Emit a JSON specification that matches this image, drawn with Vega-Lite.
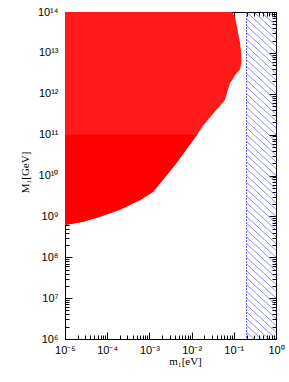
{
  "$schema": "https://vega.github.io/schema/vega-lite/v6.json",
  "width": 211,
  "height": 327,
  "autosize": "none",
  "padding": {"left": 65, "top": 12, "right": 13, "bottom": 43},
  "background": "white",
  "config": {"view": {"stroke": "black", "strokeWidth": 1}},
  "layer": [
    {
      "data": {"values": [
        {"m1": 1e-5, "Mlo": 6.17e8, "Mhi": 1e14},
        {"m1": 2.69e-5, "Mlo": 7.41e8, "Mhi": 1e14},
        {"m1": 6.76e-5, "Mlo": 9.77e8, "Mhi": 1e14},
        {"m1": 2.0e-4, "Mlo": 1.45e9, "Mhi": 1e14},
        {"m1": 6.03e-4, "Mlo": 2.51e9, "Mhi": 1e14},
        {"m1": 1.23e-3, "Mlo": 3.98e9, "Mhi": 1e14},
        {"m1": 4.07e-3, "Mlo": 1.82e10, "Mhi": 1e14},
        {"m1": 0.0135, "Mlo": 1e11, "Mhi": 1e14},
        {"m1": 0.0178, "Mlo": 1.55e11, "Mhi": 1e14},
        {"m1": 0.0316, "Mlo": 3.16e11, "Mhi": 1e14},
        {"m1": 0.0617, "Mlo": 7.08e11, "Mhi": 1e14},
        {"m1": 0.0813, "Mlo": 1.82e12, "Mhi": 1e14},
        {"m1": 0.0912, "Mlo": 2.14e12, "Mhi": 1e14},
        {"m1": 0.107, "Mlo": 2.82e12, "Mhi": 7.59e13},
        {"m1": 0.141, "Mlo": 3.98e12, "Mhi": 1.74e13},
        {"m1": 0.151, "Mlo": 5.62e12, "Mhi": 8.9e12}
      ]},
      "mark": {"type": "area", "color": "#ff1a1a", "clip": true},
      "encoding": {
        "x": {"field": "m1", "type": "quantitative",
          "scale": {"type": "log", "domain": [1e-5, 1], "nice": false},
          "axis": {"orient": "bottom", "tickCount": 40, "grid": false, "ticks": true,
            "title": "m₁[eV]", "titleFont": "Liberation Serif", "titleFontSize": 11, "titleFontWeight": "normal", "titleColor": "black",
            "titleX": 120, "titleY": 16, "titleBaseline": "top", "titleAlign": "center",
            "labelFont": "Liberation Sans", "labelFontSize": 11, "labelColor": "black", "labelOverlap": false, "labelFlush": false,
            "labelExpr": "abs(log(datum.value)/LN10 - round(log(datum.value)/LN10)) < 0.001 ? '10' + (round(log(datum.value)/LN10) < 0 ? '⁻' : '') + substring('⁰¹²³⁴⁵⁶⁷⁸⁹', abs(round(log(datum.value)/LN10)), abs(round(log(datum.value)/LN10)) + 1) : ''",
            "tickColor": "black", "domainColor": "black", "labelPadding": 9, "tickSize": -4}},
        "y": {"field": "Mlo", "type": "quantitative",
          "scale": {"type": "log", "domain": [1e6, 1e14], "nice": false},
          "axis": {"orient": "left", "tickCount": 40, "grid": false, "ticks": true,
            "title": "M₁[GeV]", "titleFont": "Liberation Serif", "titleFontSize": 11, "titleFontWeight": "normal", "titleColor": "black",
            "titleX": -35, "titleY": 160, "titleAngle": -90, "titleBaseline": "bottom", "titleAlign": "center",
            "labelFont": "Liberation Sans", "labelFontSize": 11, "labelColor": "black", "labelOverlap": false, "labelFlush": false,
            "labelExpr": "abs(log(datum.value)/LN10 - round(log(datum.value)/LN10)) < 0.001 ? '10' + (round(log(datum.value)/LN10) >= 10 ? '¹' : '') + substring('⁰¹²³⁴⁵⁶⁷⁸⁹', round(log(datum.value)/LN10) % 10, round(log(datum.value)/LN10) % 10 + 1) : ''",
            "tickColor": "black", "domainColor": "black", "labelPadding": 11, "tickSize": -4}},
        "y2": {"field": "Mhi"}
      }
    },
    {
      "data": {"values": [
        {"bx": 1e-5, "blo": 6.17e8, "bhi": 1e11},
        {"bx": 2.69e-5, "blo": 7.41e8, "bhi": 1e11},
        {"bx": 6.76e-5, "blo": 9.77e8, "bhi": 1e11},
        {"bx": 2.0e-4, "blo": 1.45e9, "bhi": 1e11},
        {"bx": 6.03e-4, "blo": 2.51e9, "bhi": 1e11},
        {"bx": 1.23e-3, "blo": 3.98e9, "bhi": 1e11},
        {"bx": 4.07e-3, "blo": 1.82e10, "bhi": 1e11},
        {"bx": 0.0135, "blo": 1e11, "bhi": 1e11}
      ]},
      "mark": {"type": "area", "color": "#ff0000", "clip": true},
      "encoding": {
        "x": {"field": "bx", "type": "quantitative", "axis": null},
        "y": {"field": "blo", "type": "quantitative", "axis": null},
        "y2": {"field": "bhi"}
      }
    },
    {
      "data": {"values": [
        {"hx1": 0.2, "hx2": 1, "hy1": 1e6, "hy2": 2.154e5},
        {"hx1": 0.2, "hx2": 1, "hy1": 1.468e6, "hy2": 3.162e5},
        {"hx1": 0.2, "hx2": 1, "hy1": 2.154e6, "hy2": 4.642e5},
        {"hx1": 0.2, "hx2": 1, "hy1": 3.162e6, "hy2": 6.813e5},
        {"hx1": 0.2, "hx2": 1, "hy1": 4.642e6, "hy2": 1e6},
        {"hx1": 0.2, "hx2": 1, "hy1": 6.813e6, "hy2": 1.468e6},
        {"hx1": 0.2, "hx2": 1, "hy1": 1e7, "hy2": 2.154e6},
        {"hx1": 0.2, "hx2": 1, "hy1": 1.468e7, "hy2": 3.162e6},
        {"hx1": 0.2, "hx2": 1, "hy1": 2.154e7, "hy2": 4.642e6},
        {"hx1": 0.2, "hx2": 1, "hy1": 3.162e7, "hy2": 6.813e6},
        {"hx1": 0.2, "hx2": 1, "hy1": 4.642e7, "hy2": 1e7},
        {"hx1": 0.2, "hx2": 1, "hy1": 6.813e7, "hy2": 1.468e7},
        {"hx1": 0.2, "hx2": 1, "hy1": 1e8, "hy2": 2.154e7},
        {"hx1": 0.2, "hx2": 1, "hy1": 1.468e8, "hy2": 3.162e7},
        {"hx1": 0.2, "hx2": 1, "hy1": 2.154e8, "hy2": 4.642e7},
        {"hx1": 0.2, "hx2": 1, "hy1": 3.162e8, "hy2": 6.813e7},
        {"hx1": 0.2, "hx2": 1, "hy1": 4.642e8, "hy2": 1e8},
        {"hx1": 0.2, "hx2": 1, "hy1": 6.813e8, "hy2": 1.468e8},
        {"hx1": 0.2, "hx2": 1, "hy1": 1e9, "hy2": 2.154e8},
        {"hx1": 0.2, "hx2": 1, "hy1": 1.468e9, "hy2": 3.162e8},
        {"hx1": 0.2, "hx2": 1, "hy1": 2.154e9, "hy2": 4.642e8},
        {"hx1": 0.2, "hx2": 1, "hy1": 3.162e9, "hy2": 6.813e8},
        {"hx1": 0.2, "hx2": 1, "hy1": 4.642e9, "hy2": 1e9},
        {"hx1": 0.2, "hx2": 1, "hy1": 6.813e9, "hy2": 1.468e9},
        {"hx1": 0.2, "hx2": 1, "hy1": 1e10, "hy2": 2.154e9},
        {"hx1": 0.2, "hx2": 1, "hy1": 1.468e10, "hy2": 3.162e9},
        {"hx1": 0.2, "hx2": 1, "hy1": 2.154e10, "hy2": 4.642e9},
        {"hx1": 0.2, "hx2": 1, "hy1": 3.162e10, "hy2": 6.813e9},
        {"hx1": 0.2, "hx2": 1, "hy1": 4.642e10, "hy2": 1e10},
        {"hx1": 0.2, "hx2": 1, "hy1": 6.813e10, "hy2": 1.468e10},
        {"hx1": 0.2, "hx2": 1, "hy1": 1e11, "hy2": 2.154e10},
        {"hx1": 0.2, "hx2": 1, "hy1": 1.468e11, "hy2": 3.162e10},
        {"hx1": 0.2, "hx2": 1, "hy1": 2.154e11, "hy2": 4.642e10},
        {"hx1": 0.2, "hx2": 1, "hy1": 3.162e11, "hy2": 6.813e10},
        {"hx1": 0.2, "hx2": 1, "hy1": 4.642e11, "hy2": 1e11},
        {"hx1": 0.2, "hx2": 1, "hy1": 6.813e11, "hy2": 1.468e11},
        {"hx1": 0.2, "hx2": 1, "hy1": 1e12, "hy2": 2.154e11},
        {"hx1": 0.2, "hx2": 1, "hy1": 1.468e12, "hy2": 3.162e11},
        {"hx1": 0.2, "hx2": 1, "hy1": 2.154e12, "hy2": 4.642e11},
        {"hx1": 0.2, "hx2": 1, "hy1": 3.162e12, "hy2": 6.813e11},
        {"hx1": 0.2, "hx2": 1, "hy1": 4.642e12, "hy2": 1e12},
        {"hx1": 0.2, "hx2": 1, "hy1": 6.813e12, "hy2": 1.468e12},
        {"hx1": 0.2, "hx2": 1, "hy1": 1e13, "hy2": 2.154e12},
        {"hx1": 0.2, "hx2": 1, "hy1": 1.468e13, "hy2": 3.162e12},
        {"hx1": 0.2, "hx2": 1, "hy1": 2.154e13, "hy2": 4.642e12},
        {"hx1": 0.2, "hx2": 1, "hy1": 3.162e13, "hy2": 6.813e12},
        {"hx1": 0.2, "hx2": 1, "hy1": 4.642e13, "hy2": 1e13},
        {"hx1": 0.2, "hx2": 1, "hy1": 6.813e13, "hy2": 1.468e13},
        {"hx1": 0.2, "hx2": 1, "hy1": 1e14, "hy2": 2.154e13},
        {"hx1": 0.2, "hx2": 1, "hy1": 1.468e14, "hy2": 3.162e13},
        {"hx1": 0.2, "hx2": 1, "hy1": 2.154e14, "hy2": 4.642e13},
        {"hx1": 0.2, "hx2": 1, "hy1": 3.162e14, "hy2": 6.813e13},
        {"hx1": 0.2, "hx2": 1, "hy1": 4.642e14, "hy2": 1e14}
      ]},
      "mark": {"type": "rule", "color": "#3a3aee", "strokeWidth": 0.7, "opacity": 0.85, "clip": true},
      "encoding": {
        "x": {"field": "hx1", "type": "quantitative",
          "scale": {"type": "log", "domain": [1e-5, 1], "nice": false},
          "axis": {"orient": "top", "tickCount": 40, "grid": false, "labels": false, "title": null, "ticks": true,
            "tickColor": "black", "domainColor": "black", "tickSize": -4}},
        "x2": {"field": "hx2"},
        "y": {"field": "hy1", "type": "quantitative",
          "scale": {"type": "log", "domain": [1e6, 1e14], "nice": false},
          "axis": {"orient": "right", "tickCount": 40, "grid": false, "labels": false, "title": null, "ticks": true,
            "tickColor": "black", "domainColor": "black", "tickSize": -4}},
        "y2": {"field": "hy2"}
      }
    },
    {
      "data": {"values": [{"edge": 0.2}]},
      "mark": {"type": "rule", "color": "#3a3aee", "strokeWidth": 0.8, "strokeDash": [2, 1]},
      "encoding": {
        "x": {"field": "edge", "type": "quantitative", "axis": null}
      }
    },
    {
      "data": {"values": [{"px": 0.001, "py": 1e10}]},
      "mark": {"type": "point", "opacity": 0},
      "encoding": {
        "x": {"field": "px", "type": "quantitative",
          "axis": {"orient": "bottom", "values": [1e-5, 1e-4, 1e-3, 1e-2, 1e-1, 1], "grid": false, "labels": false, "title": null, "domain": false,
            "ticks": true, "tickColor": "black", "tickSize": -7}},
        "y": {"field": "py", "type": "quantitative",
          "axis": {"orient": "left", "values": [1e6, 1e7, 1e8, 1e9, 1e10, 1e11, 1e12, 1e13, 1e14], "grid": false, "labels": false, "title": null, "domain": false,
            "ticks": true, "tickColor": "black", "tickSize": -7}}
      }
    },
    {
      "data": {"values": [{"px": 0.001, "py": 1e10}]},
      "mark": {"type": "point", "opacity": 0},
      "encoding": {
        "x": {"field": "px", "type": "quantitative",
          "axis": {"orient": "top", "values": [1e-5, 1e-4, 1e-3, 1e-2, 1e-1, 1], "grid": false, "labels": false, "title": null, "domain": false,
            "ticks": true, "tickColor": "black", "tickSize": -7}},
        "y": {"field": "py", "type": "quantitative",
          "axis": {"orient": "right", "values": [1e6, 1e7, 1e8, 1e9, 1e10, 1e11, 1e12, 1e13, 1e14], "grid": false, "labels": false, "title": null, "domain": false,
            "ticks": true, "tickColor": "black", "tickSize": -7}}
      }
    }
  ],
  "resolve": {"axis": {"x": "independent", "y": "independent"}}
}
